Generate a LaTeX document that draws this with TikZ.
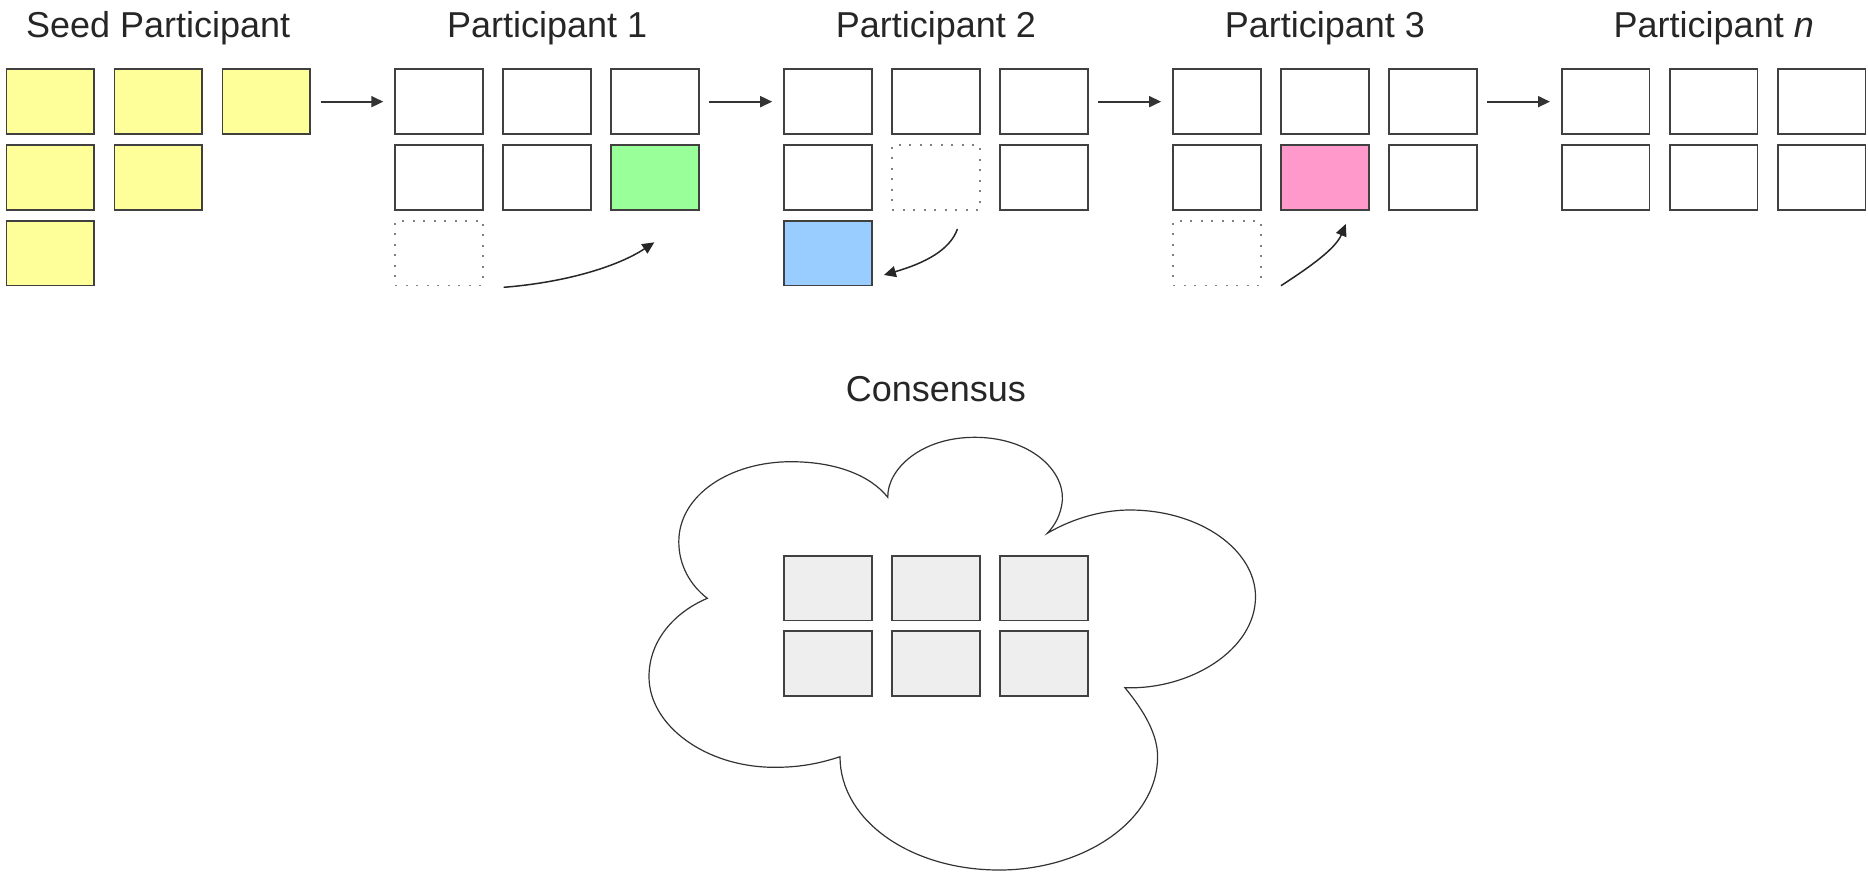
\documentclass[tikz,border=0pt]{standalone}
\usepackage{fontspec}
\setmainfont{Liberation Sans}
\usetikzlibrary{arrows.meta}
\definecolor{yellowc}{HTML}{FFFF99}
\definecolor{greenc}{HTML}{99FF99}
\definecolor{bluec}{HTML}{99CCFF}
\definecolor{pinkc}{HTML}{FF99CC}
\definecolor{grayc}{HTML}{EEEEEE}
\newcommand\B[5]{\node[box,#2] (#1) at ({6.4+388.9*#3+108*#5+43.75},{69.3+75.7*#4+32.35}) {};}
\newcommand\C[3]{\node[box,fill=grayc] (#1) at ({784.2+108*#3+43.75},{555.7+75.3*#2+32.35}) {};}
\begin{document}
\begin{tikzpicture}[x=0.5pt,y=-0.5pt,
  box/.style={draw=black!75, line width=0.9pt, minimum width=43.75pt, minimum height=32.35pt, inner sep=0pt, outer sep=0pt},
  dotbox/.style={draw=black!50, line width=0.9pt, dash pattern=on 1pt off 4.25pt},
  title/.style={anchor=base, font=\fontsize{18}{20}\selectfont, text=black!85, inner sep=0pt},
  arr/.style={draw=black!80, line width=0.9pt, -{Triangle[length=6pt,width=5.5pt]}, shorten <=5.3pt, shorten >=6pt},
  carr/.style={draw=black!85, line width=0.75pt, -{Triangle[length=6pt,width=5.5pt]}},
  cloud/.style={draw=black!80, line width=0.6pt}]
\useasboundingbox (0,0) rectangle (1868,875);
% titles
\node[title] (t0) at (158.2,37.3) {Seed Participant};
\node[title] (t1) at (547.05,37.3) {Participant 1};
\node[title] (t2) at (935.95,37.3) {Participant 2};
\node[title] (t3) at (1324.85,37.3) {Participant 3};
\node[title] (t4) at (1713.75,37.3) {Participant \textit{n}};
% seed
\B{s00}{fill=yellowc}{0}{0}{0}
\B{s01}{fill=yellowc}{0}{0}{1}
\B{s02}{fill=yellowc}{0}{0}{2}
\B{s10}{fill=yellowc}{0}{1}{0}
\B{s11}{fill=yellowc}{0}{1}{1}
\B{s20}{fill=yellowc}{0}{2}{0}
% participant 1
\B{a00}{}{1}{0}{0}
\B{a01}{}{1}{0}{1}
\B{a02}{}{1}{0}{2}
\B{a10}{}{1}{1}{0}
\B{a11}{}{1}{1}{1}
\B{a12}{fill=greenc}{1}{1}{2}
\B{a20}{dotbox}{1}{2}{0}
% participant 2
\B{b00}{}{2}{0}{0}
\B{b01}{}{2}{0}{1}
\B{b02}{}{2}{0}{2}
\B{b10}{}{2}{1}{0}
\B{b11}{dotbox}{2}{1}{1}
\B{b12}{}{2}{1}{2}
\B{b20}{fill=bluec}{2}{2}{0}
% participant 3
\B{c00}{}{3}{0}{0}
\B{c01}{}{3}{0}{1}
\B{c02}{}{3}{0}{2}
\B{c10}{}{3}{1}{0}
\B{c11}{fill=pinkc}{3}{1}{1}
\B{c12}{}{3}{1}{2}
\B{c20}{dotbox}{3}{2}{0}
% participant n
\B{n00}{}{4}{0}{0}
\B{n01}{}{4}{0}{1}
\B{n02}{}{4}{0}{2}
\B{n10}{}{4}{1}{0}
\B{n11}{}{4}{1}{1}
\B{n12}{}{4}{1}{2}
% straight arrows
\draw[arr] (s02.east) -- (a00.west);
\draw[arr] (a02.east) -- (b00.west);
\draw[arr] (b02.east) -- (c00.west);
\draw[arr] (c02.east) -- (n00.west);
% curved arrows
\coordinate (p1s) at (503.7,287.3);
\coordinate (p1e) at (654.3,242.3);
\draw[carr] (p1s) .. controls (570,282) and (620,265) .. (p1e);
\coordinate (p2s) at (957.4,229);
\coordinate (p2e) at (883.9,275);
\draw[carr] (p2s) .. controls (950,250) and (925,263) .. (p2e);
\coordinate (p3s) at (1281,285.7);
\coordinate (p3e) at (1345.8,224);
\draw[carr] (p3s) .. controls (1305,270) and (1335,250) .. (p3e);
% consensus
\node[title] (cons) at (935.95,401.7) {Consensus};
\draw[cloud] (707.3,598.3)
  .. controls (690,585) and (678.8,565) .. (678.8,541.7)
  .. controls (678.8,495) and (730,461.7) .. (791,461.7)
  .. controls (835,461.7) and (870,475) .. (887.8,497.3)
  .. controls (887,470) and (920,437.3) .. (974.7,437.3)
  .. controls (1030,437.3) and (1064,470) .. (1062.4,500)
  .. controls (1061,515) and (1055,525) .. (1047.3,533.3)
  .. controls (1075,517) and (1105,510) .. (1129.8,510)
  .. controls (1200,510) and (1255.5,550) .. (1255.5,596.7)
  .. controls (1255.5,650) and (1190,690) .. (1124.9,687.7)
  .. controls (1145,712) and (1157.6,735) .. (1157.6,756.7)
  .. controls (1157.6,820) and (1085,870) .. (999.2,870)
  .. controls (910,870) and (840,820) .. (840,756.7)
  .. controls (815,765) and (795,767.3) .. (774.7,767.3)
  .. controls (705,767.3) and (649,725) .. (649,676.7)
  .. controls (649,640) and (675,612) .. (707.3,598.3) -- cycle;
\C{k00}{0}{0}
\C{k01}{0}{1}
\C{k02}{0}{2}
\C{k10}{1}{0}
\C{k11}{1}{1}
\C{k12}{1}{2}
\end{tikzpicture}
\end{document}
